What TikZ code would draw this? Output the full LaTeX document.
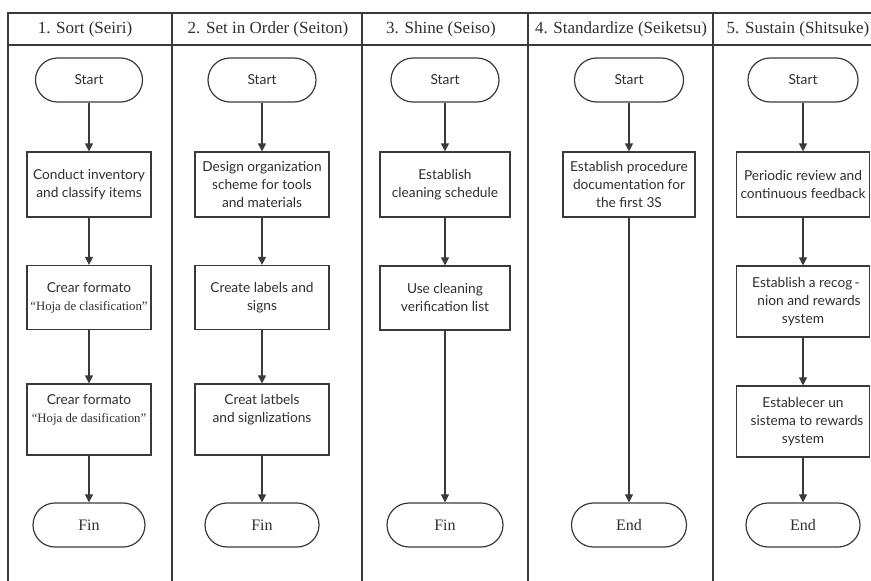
\documentclass[tikz,border=0pt]{standalone}
\usepackage{fontspec}
\setmainfont{Liberation Serif}
\newfontfamily\boxsans{Lato}
\usetikzlibrary{arrows.meta}
\definecolor{ln}{HTML}{3A3A3A}
\definecolor{tx}{HTML}{2E2E2E}
\begin{document}
\begin{tikzpicture}[x=1pt,y=-1pt,
  line width=1.2pt,
  frame/.style={draw=ln,line width=1.3pt},
  hdr/.style={text=tx,font=\fontsize{17}{19}\selectfont,inner sep=0pt},
  term/.style={draw=ln,rounded corners=22pt,minimum height=44pt,inner sep=0pt,text=tx},
  startnode/.style={term,font=\boxsans\fontsize{13.8}{16}\selectfont},
  endnode/.style={term,font=\fontsize{16}{18}\selectfont},
  procbox/.style={draw=ln,inner sep=0pt,align=center,text=tx,font=\boxsans\fontsize{13.7}{18}\selectfont},
  flow/.style={draw=ln,line width=1.2pt,-{Triangle[length=8pt,width=8pt]}}
]
\useasboundingbox (0,0) rectangle (871,581);
% table frame
\draw[frame] (8,581) -- (8,13) -- (871,13);
\draw[frame] (8,45) -- (871,45);
\foreach \xx in {172,362,528,713} \draw[frame] (\xx,13) -- (\xx,581);
% headers
\node[hdr] (h1) at (85,29) {1. Sort (Seiri)};
\node[hdr] (h2) at (268,29) {2. Set in Order (Seiton)};
\node[hdr] (h3) at (441,29) {3. Shine (Seiso)};
\node[hdr] (h4) at (621,29) {4. Standardize (Seiketsu)};
\node[hdr] (h5) at (798,29) {5. Sustain (Shitsuke)};
% column 1
\node[startnode,minimum width=107pt] (s1) at (89,80) {Start};
\node[procbox,minimum width=124pt,minimum height=65pt] (b11) at (89,184.5) {Conduct inventory\\and classify items};
\node[procbox,minimum width=124pt,minimum height=64pt] (b12) at (89,297.5) {Crear formato\\{\rmfamily\fontsize{12.8}{18}\selectfont “Hoja de clasification”}};
\node[procbox,minimum width=124pt,minimum height=71pt] (b13) at (89,419.5) {Crear formato\\{\rmfamily\fontsize{12.8}{18}\selectfont “Hoja de dasification”}\\[4pt]};
\node[endnode,minimum width=112pt] (f1) at (89,525) {Fin};
\draw[flow] (s1) -- (b11);
\draw[flow] (b11) -- (b12);
\draw[flow] (b12) -- (b13);
\draw[flow] (b13) -- (f1);
% column 2
\node[startnode,minimum width=108pt] (s2) at (262,80) {Start};
\node[procbox,minimum width=134pt,minimum height=65pt] (b21) at (262,184.5) {Design organization\\scheme for tools\\and materials};
\node[procbox,minimum width=134pt,minimum height=64pt] (b22) at (262,297.5) {Create labels and\\signs};
\node[procbox,minimum width=134pt,minimum height=71pt] (b23) at (262,419.5) {Creat latbels\\and signlizations\\[4pt]};
\node[endnode,minimum width=114pt] (f2) at (262,525) {Fin};
\draw[flow] (s2) -- (b21);
\draw[flow] (b21) -- (b22);
\draw[flow] (b22) -- (b23);
\draw[flow] (b23) -- (f2);
% column 3
\node[startnode,minimum width=108pt] (s3) at (445,80) {Start};
\node[procbox,minimum width=130pt,minimum height=65pt] (b31) at (445,184.5) {Establish\\cleaning schedule};
\node[procbox,minimum width=130pt,minimum height=64pt] (b32) at (445,298) {Use cleaning\\verification list};
\node[endnode,minimum width=116pt] (f3) at (445,525) {Fin};
\draw[flow] (s3) -- (b31);
\draw[flow] (b31) -- (b32);
\draw[flow] (b32) -- (f3);
% column 4
\node[startnode,minimum width=109pt] (s4) at (629,80) {Start};
\node[procbox,minimum width=132pt,minimum height=65pt] (b41) at (629,184.5) {Establish procedure\\documentation for\\the first 3S};
\node[endnode,minimum width=115pt] (f4) at (629,525) {End};
\draw[flow] (s4) -- (b41);
\draw[flow] (b41) -- (f4);
% column 5
\node[startnode,minimum width=110pt] (s5) at (803,80) {Start};
\node[procbox,minimum width=133pt,minimum height=65pt] (b51) at (803,184.5) {Periodic review and\\continuous feedback};
\node[procbox,minimum width=133pt,minimum height=71pt] (b52) at (803,301.5) {\hspace*{6pt}Establish a recog\,-\\\hspace*{12pt}nion and rewards\\system};
\node[procbox,minimum width=133pt,minimum height=71pt] (b53) at (803,421.5) {Establecer un\\\hspace*{8pt}sistema to rewards\\system};
\node[endnode,minimum width=114pt] (f5) at (803,525) {End};
\draw[flow] (s5) -- (b51);
\draw[flow] (b51) -- (b52);
\draw[flow] (b52) -- (b53);
\draw[flow] (b53) -- (f5);
\end{tikzpicture}
\end{document}
